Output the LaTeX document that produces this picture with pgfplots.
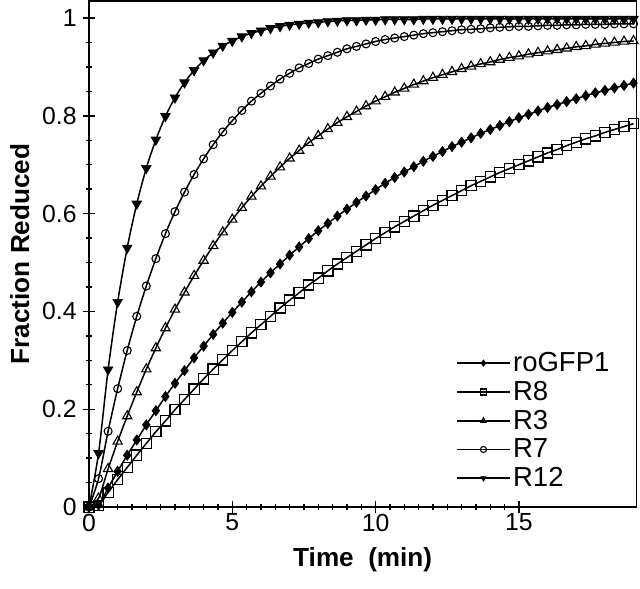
\documentclass[border={4pt 9pt 1pt 0pt}]{standalone}
\usepackage{pgfplots}
\usepackage{pgfplotstable}
\pgfplotsset{compat=1.18}
\usepackage{fontspec}
\setmainfont{Liberation Sans}
\pgfplotstableread{
n rg R8 R3 R7 R12
0 0 0 0 0 0
1 0.004 0.003 0.018 0.058 0.110
2 0.039 0.030 0.078 0.155 0.281
3 0.073 0.056 0.134 0.242 0.419
4 0.106 0.081 0.186 0.320 0.530
5 0.137 0.106 0.235 0.390 0.620
6 0.168 0.130 0.282 0.452 0.693
7 0.197 0.154 0.325 0.508 0.751
8 0.226 0.176 0.366 0.559 0.799
9 0.253 0.199 0.404 0.604 0.837
10 0.279 0.220 0.439 0.644 0.868
11 0.305 0.241 0.473 0.680 0.893
12 0.329 0.262 0.504 0.712 0.913
13 0.353 0.282 0.534 0.741 0.929
14 0.376 0.301 0.562 0.767 0.943
15 0.398 0.320 0.588 0.790 0.953
16 0.419 0.338 0.612 0.811 0.962
17 0.440 0.356 0.635 0.830 0.969
18 0.460 0.373 0.656 0.846 0.974
19 0.479 0.390 0.676 0.861 0.979
20 0.497 0.407 0.695 0.875 0.983
21 0.515 0.423 0.713 0.887 0.986
22 0.532 0.438 0.729 0.898 0.988
23 0.549 0.454 0.745 0.907 0.990
24 0.565 0.468 0.759 0.916 0.991
25 0.580 0.483 0.773 0.923 0.993
26 0.595 0.497 0.786 0.930 0.994
27 0.609 0.510 0.798 0.937 0.995
28 0.623 0.523 0.809 0.942 0.995
29 0.636 0.536 0.820 0.947 0.996
30 0.649 0.549 0.830 0.952 0.996
31 0.662 0.561 0.839 0.956 0.997
32 0.674 0.573 0.848 0.959 0.997
33 0.685 0.584 0.856 0.962 0.997
34 0.696 0.595 0.864 0.965 0.997
35 0.707 0.606 0.871 0.968 0.998
36 0.717 0.617 0.878 0.970 0.998
37 0.727 0.627 0.884 0.972 0.998
38 0.737 0.637 0.890 0.974 0.998
39 0.746 0.647 0.896 0.976 0.998
40 0.755 0.657 0.901 0.977 0.998
41 0.764 0.666 0.906 0.978 0.998
42 0.772 0.675 0.910 0.980 0.998
43 0.780 0.684 0.915 0.981 0.998
44 0.788 0.692 0.919 0.982 0.998
45 0.796 0.700 0.922 0.983 0.998
46 0.803 0.708 0.926 0.983 0.998
47 0.810 0.716 0.929 0.984 0.998
48 0.817 0.724 0.932 0.985 0.998
49 0.823 0.731 0.935 0.985 0.998
50 0.829 0.739 0.938 0.986 0.998
51 0.835 0.746 0.941 0.986 0.998
52 0.841 0.753 0.943 0.987 0.998
53 0.847 0.759 0.946 0.987 0.998
54 0.852 0.766 0.948 0.987 0.998
55 0.857 0.772 0.950 0.988 0.998
56 0.862 0.778 0.952 0.988 0.998
57 0.867 0.784 0.953 0.988 0.998
}\data
\begin{document}
\begin{tikzpicture}
\begin{axis}[
  scale only axis,
  width=398pt, height=368pt,
  xmin=0, xmax=19.1, ymin=0, ymax=1.035,
  xtick={0,5,10,15}, ytick={0,0.2,0.4,0.6,0.8,1},
  minor x tick num=9, minor y tick num=3,
  xtick pos=lower, ytick pos=left,
  tick align=center,
  major tick length=9pt, minor tick length=5pt,
  every tick/.style={black, line width=1pt},
  axis line style={line width=1.3pt},
  /pgf/number format/assume math mode=true,
  tick label style={font=\fontsize{18}{21}\selectfont},
  yticklabel style={xshift=-1pt},
  xticklabel style={yshift=3pt},
  xlabel={\textbf{Time\ \ (min)}},
  ylabel={\textbf{Fraction Reduced}},
  label style={font=\fontsize{19}{22}\selectfont},
  xlabel style={yshift=-4.5pt},
  ylabel style={yshift=2.5pt},
  clip=false,
  legend cell align=left,
  legend style={draw=none, fill=none, at={(0.671,0.03)}, anchor=south west,
    font=\fontsize{20}{23}\selectfont, row sep=1.5pt, inner sep=0pt},
  legend image code/.code={%
     \draw[#1, line width=1.1pt, mark=none] (0pt,0pt) -- (38pt,0pt);
     \draw[#1, mark size=2.2pt] plot coordinates {(19pt,0pt)};},
  every axis plot/.append style={line width=1.1pt, smooth},
]
\addplot[black, mark=diamond*, mark size=3.6pt, mark options={solid, line width=0.6pt}]
  table[x expr=\thisrow{n}/3, y=rg] {\data};
\addlegendentry{roGFP1}
\addplot[black, mark=square, mark size=3.7pt, mark options={solid, fill=white, line width=0.9pt}]
  table[x expr=\thisrow{n}/3, y=R8] {\data};
\addlegendentry{R8}
\addplot[black, mark=triangle, mark size=3.9pt, mark options={solid, fill=white, line width=0.8pt}]
  table[x expr=\thisrow{n}/3, y=R3] {\data};
\addlegendentry{R3}
\addplot[black, mark=o, mark size=2.9pt, mark options={solid, fill=white, line width=0.8pt}]
  table[x expr=\thisrow{n}/3, y=R7] {\data};
\addlegendentry{R7}
\addplot[black, mark=triangle*, mark size=4pt, mark options={solid, rotate=180, line width=0.5pt}]
  table[x expr=\thisrow{n}/3, y=R12] {\data};
\addlegendentry{R12}
\end{axis}
\end{tikzpicture}
\end{document}
